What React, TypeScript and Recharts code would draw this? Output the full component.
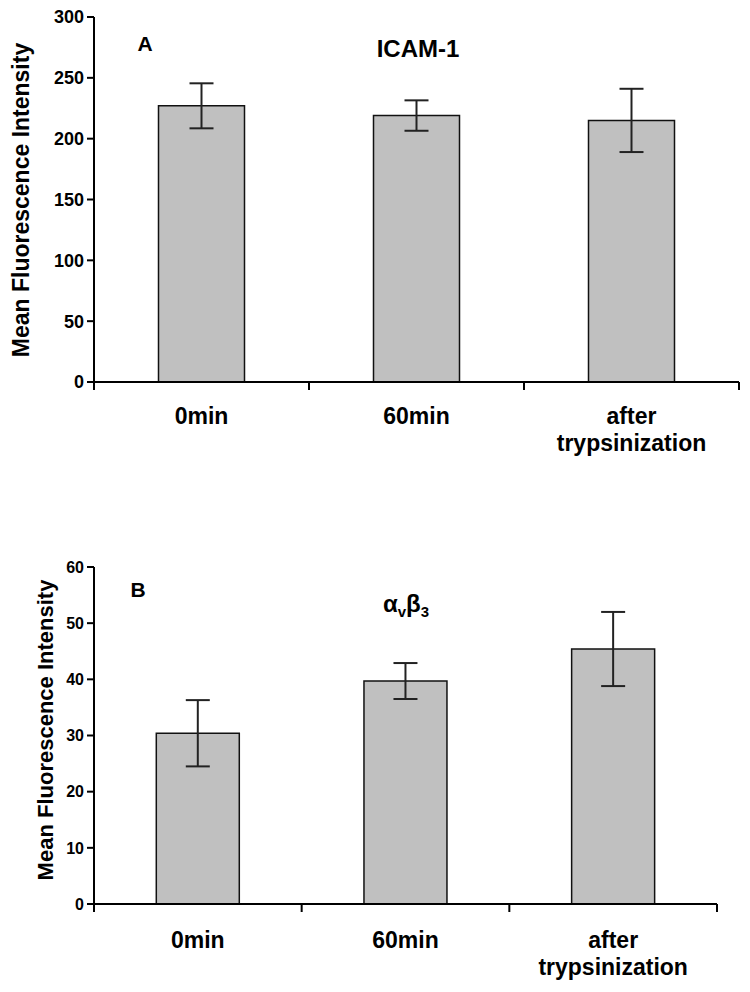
import { BarChart, Bar, XAxis, YAxis, ErrorBar } from "recharts";

const categories = ["0min", "60min", "after\ntrypsinization"];
const icamMeans = [227, 219, 215];
const icamErrors = [18.5, 12.5, 26];
const avb3Means = [30.4, 39.7, 45.4];
const avb3Errors = [5.9, 3.2, 6.6];
const icamTicks = [0, 50, 100, 150, 200, 250, 300];
const avb3Ticks = [0, 10, 20, 30, 40, 50, 60];
const frameTicks = [0, 1, 2, 3];

const FONT = "'Liberation Sans', Arial, sans-serif";

// pos = slot of each category on a 0..3 frame axis (Excel-style ticks between categories)
const icamData = categories.map((name, i) => ({
  name,
  pos: i + 0.5,
  mean: icamMeans[i],
  err: icamErrors[i],
}));
const avb3Data = categories.map((name, i) => ({
  name,
  pos: i + 0.5,
  mean: avb3Means[i],
  err: avb3Errors[i],
}));

const CategoryTick = (props: any) => {
  const { x, y, payload, firstDy, fontSize } = props;
  const lines = String(payload.value).split("\n");
  return (
    <text
      x={x}
      y={y}
      textAnchor="middle"
      fontSize={fontSize}
      fontWeight="bold"
      fontFamily={FONT}
      fill="#000"
    >
      {lines.map((line: string, i: number) => (
        <tspan key={i} x={x} dy={i === 0 ? firstDy : 27}>
          {line}
        </tspan>
      ))}
    </text>
  );
};

interface PanelProps {
  data: { name: string; pos: number; mean: number; err: number }[];
  ticks: number[];
  height: number;
  top: number;
  right: number;
  catHeight: number;
  tickFont: number;
  labelDy: number;
}

const Panel = ({ data, ticks, height, top, right, catHeight, tickFont, labelDy }: PanelProps) => (
  <BarChart
    width={750}
    height={height}
    data={data}
    margin={{ top, right, bottom: 0, left: 0 }}
    barCategoryGap="30%"
  >
    <XAxis
      xAxisId="axisB"
      dataKey="name"
      height={catHeight}
      axisLine={false}
      tickLine={false}
      interval={0}
      tick={(p: any) => <CategoryTick {...p} firstDy={labelDy} fontSize={23} />}
    />
    <XAxis
      xAxisId="axisA"
      type="number"
      dataKey="pos"
      domain={[0, 3]}
      ticks={frameTicks}
      interval={0}
      allowDataOverflow
      height={1}
      tickFormatter={() => ""}
      tickSize={8}
      axisLine={{ stroke: "#000", strokeWidth: 2 }}
      tickLine={{ stroke: "#000", strokeWidth: 2 }}
    />
    <YAxis
      domain={[ticks[0], ticks[ticks.length - 1]]}
      ticks={ticks}
      width={94}
      tickSize={7}
      tickMargin={3}
      axisLine={{ stroke: "#000", strokeWidth: 2 }}
      tickLine={{ stroke: "#000", strokeWidth: 2 }}
      tick={{ fill: "#000", fontSize: tickFont, fontWeight: "bold", fontFamily: FONT }}
    />
    <Bar
      xAxisId="axisB"
      dataKey="mean"
      fill="#c0c0c0"
      stroke="#111"
      strokeWidth={1.5}
      isAnimationActive={false}
    >
      <ErrorBar dataKey="err" width={12} stroke="#222" strokeWidth={2} />
    </Bar>
  </BarChart>
);

export default function App() {
  return (
    <div
      style={{
        position: "absolute",
        left: 0,
        top: 0,
        width: 750,
        height: 992,
        background: "#fff",
        fontFamily: FONT,
      }}
    >
      <div style={{ position: "absolute", left: 0, top: 0 }}>
        <Panel data={icamData} ticks={icamTicks} height={480} top={17} right={11} catHeight={97} tickFont={18} labelDy={33} />
      </div>
      <div style={{ position: "absolute", left: 0, top: 480 }}>
        <Panel data={avb3Data} ticks={avb3Ticks} height={512} top={87} right={33} catHeight={87} tickFont={16} labelDy={35} />
      </div>
      <svg
        width={750}
        height={992}
        style={{ position: "absolute", left: 0, top: 0, pointerEvents: "none" }}
        fontFamily={FONT}
        fontWeight="bold"
        fill="#000"
      >
        <text x={145} y={51} fontSize={21} textAnchor="middle">A</text>
        <text x={418} y={57} fontSize={24} textAnchor="middle">ICAM-1</text>
        <text
          x={21}
          y={200}
          fontSize={23}
          textAnchor="middle"
          dominantBaseline="central"
          transform="rotate(-90 21 200)"
        >
          Mean Fluorescence Intensity
        </text>
        <text x={138} y={597} fontSize={21} textAnchor="middle">B</text>
        <text x={383} y={612} fontSize={24}>
          α<tspan fontSize={15} dy={5}>v</tspan>
          <tspan fontSize={24} dy={-5}>β</tspan>
          <tspan fontSize={15} dy={5}>3</tspan>
        </text>
        <text
          x={45}
          y={730}
          fontSize={22}
          textAnchor="middle"
          dominantBaseline="central"
          transform="rotate(-90 45 730)"
        >
          Mean Fluorescence Intensity
        </text>
      </svg>
    </div>
  );
}
